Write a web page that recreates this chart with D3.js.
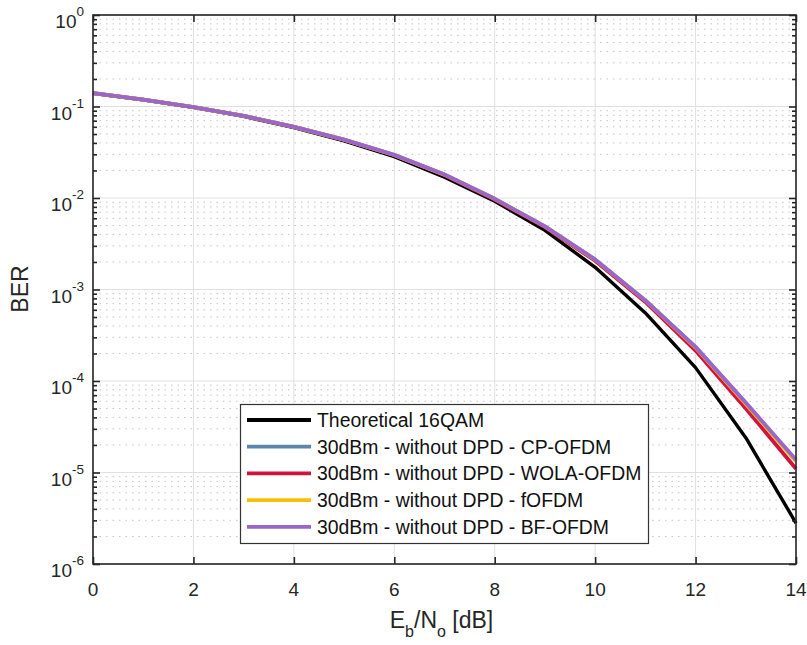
<!DOCTYPE html>
<html>
<head>
<meta charset="utf-8">
<script src="https://cdn.jsdelivr.net/npm/d3@7"></script>
<style>
  html, body { margin: 0; padding: 0; background: #fff; }
  svg { display: block; font-family: "Liberation Sans", Arial, Helvetica, sans-serif; }
</style>
</head>
<body>
<svg id="chart" width="807" height="645"></svg>
<script>
// ---- Data ----
const ebno = [0, 1, 2, 3, 4, 5, 6, 7, 8, 9, 10, 11, 12, 13, 14];
const theory16qam = [0.139, 0.118, 0.0978, 0.0779, 0.0587, 0.0422, 0.0283, 0.0169, 0.0092, 0.00443, 0.00175, 0.000555, 0.000140, 2.4e-5, 2.8e-6];
const cpOfdm   = [0.140, 0.119, 0.0985, 0.0790, 0.0600, 0.0434, 0.0295, 0.0180, 0.0098, 0.0049, 0.00212, 0.00076, 0.000235, 5.7e-5, 1.35e-5];
const wolaOfdm = [0.140, 0.119, 0.0983, 0.0788, 0.0598, 0.0432, 0.0293, 0.0178, 0.0096, 0.0048, 0.00206, 0.00073, 0.000215, 5.0e-5, 1.10e-5];
const fOfdm    = [0.140, 0.119, 0.0985, 0.0790, 0.0600, 0.0434, 0.0295, 0.0180, 0.0098, 0.0049, 0.00212, 0.00076, 0.000232, 5.6e-5, 1.32e-5];
const bfOfdm   = [0.140, 0.119, 0.0985, 0.0790, 0.0600, 0.0435, 0.0296, 0.0181, 0.0098, 0.0049, 0.00213, 0.00076, 0.000236, 5.8e-5, 1.38e-5];

const seriesNames = ["Theoretical 16QAM", "30dBm - without DPD - CP-OFDM", "30dBm - without DPD - WOLA-OFDM", "30dBm - without DPD - fOFDM", "30dBm - without DPD - BF-OFDM"];
const seriesValues = [theory16qam, cpOfdm, wolaOfdm, fOfdm, bfOfdm];
const seriesColors = ["#000000", "#5B87A8", "#D2143C", "#F8BE00", "#9966CC"];

const xTicks = [0, 2, 4, 6, 8, 10, 12, 14];
const yDecades = [0, -1, -2, -3, -4, -5, -6];

// ---- Layout ----
const svg = d3.select("#chart");
const m = { left: 93, top: 15, right: 796, bottom: 564 };
const x = d3.scaleLinear().domain([0, 14]).range([m.left, m.right]);
const y = d3.scaleLog().domain([1e-6, 1]).range([m.bottom, m.top]);
const axisColor = "#262626";

// minor values
const minorVals = [];
for (let d = -6; d < 0; d++) for (let k = 2; k <= 9; k++) minorVals.push(k * Math.pow(10, d));

// ---- Grid ----
const grid = svg.append("g");
grid.selectAll(".minor").data(minorVals).enter().append("line")
  .attr("x1", m.left).attr("x2", m.right)
  .attr("y1", d => y(d)).attr("y2", d => y(d))
  .attr("stroke", "#c4c4c4").attr("stroke-width", 1)
  .attr("stroke-dasharray", "1.5,5");
grid.selectAll(".majorY").data(yDecades).enter().append("line")
  .attr("x1", m.left).attr("x2", m.right)
  .attr("y1", d => y(Math.pow(10, d))).attr("y2", d => y(Math.pow(10, d)))
  .attr("stroke", "#e0e0e0").attr("stroke-width", 1);
grid.selectAll(".majorX").data(xTicks).enter().append("line")
  .attr("x1", d => x(d)).attr("x2", d => x(d))
  .attr("y1", m.top).attr("y2", m.bottom)
  .attr("stroke", "#e0e0e0").attr("stroke-width", 1);

// ---- Lines ----
const line = d3.line().x((d, i) => x(ebno[i])).y(d => y(d));
svg.append("g").selectAll("path").data(seriesValues).enter().append("path")
  .attr("d", d => line(d))
  .attr("fill", "none")
  .attr("stroke", (d, i) => seriesColors[i])
  .attr("stroke-width", (d, i) => i === 0 ? 3.4 : 3.8)
  .attr("stroke-linejoin", "round");

// ---- Axes (box with inward ticks) ----
const ax = svg.append("g");
const xAxisB = d3.axisBottom(x).tickValues(xTicks).tickSizeInner(-7).tickSizeOuter(0).tickFormat("");
const xAxisT = d3.axisTop(x).tickValues(xTicks).tickSizeInner(-7).tickSizeOuter(0).tickFormat("");
const yMajor = yDecades.map(d => Math.pow(10, d));
const yAxisL = d3.axisLeft(y).tickValues(yMajor).tickSizeInner(-7).tickSizeOuter(0).tickFormat("");
const yAxisR = d3.axisRight(y).tickValues(yMajor).tickSizeInner(-7).tickSizeOuter(0).tickFormat("");
const yAxisLm = d3.axisLeft(y).tickValues(minorVals).tickSizeInner(-4).tickSizeOuter(0).tickFormat("");
const yAxisRm = d3.axisRight(y).tickValues(minorVals).tickSizeInner(-4).tickSizeOuter(0).tickFormat("");

function styleAxis(g) {
  g.selectAll("path,line").attr("stroke", axisColor).attr("stroke-width", 1.6);
  g.select(".domain").remove();
}
ax.append("g").attr("transform", `translate(0,${m.bottom})`).call(xAxisB).call(styleAxis);
ax.append("g").attr("transform", `translate(0,${m.top})`).call(xAxisT).call(styleAxis);
ax.append("g").attr("transform", `translate(${m.left},0)`).call(yAxisL).call(styleAxis);
ax.append("g").attr("transform", `translate(${m.right},0)`).call(yAxisR).call(styleAxis);
ax.append("g").attr("transform", `translate(${m.left},0)`).call(yAxisLm).call(styleAxis);
ax.append("g").attr("transform", `translate(${m.right},0)`).call(yAxisRm).call(styleAxis);
ax.append("rect").attr("x", m.left).attr("y", m.top)
  .attr("width", m.right - m.left).attr("height", m.bottom - m.top)
  .attr("fill", "none").attr("stroke", axisColor).attr("stroke-width", 1.6);

// ---- Tick labels ----
svg.append("g").selectAll("text").data(xTicks).enter().append("text")
  .attr("x", d => x(d)).attr("y", m.bottom + 32)
  .attr("text-anchor", "middle").attr("font-size", 19).attr("fill", axisColor)
  .text(d => d);

const yl = svg.append("g").selectAll("text").data(yDecades).enter().append("text")
  .attr("x", 84).attr("y", d => y(Math.pow(10, d)) + 13)
  .attr("text-anchor", "end").attr("fill", axisColor);
yl.append("tspan").attr("font-size", 19).text("10");
yl.append("tspan").attr("font-size", 13.5).attr("dy", -12).text(d => d === 0 ? "0" : "-" + Math.abs(d));

// ---- Axis titles ----
const xt = svg.append("text").attr("x", (m.left + m.right) / 2 - 3).attr("y", 628)
  .attr("text-anchor", "middle").attr("font-size", 23).attr("fill", axisColor);
xt.append("tspan").text("E");
xt.append("tspan").attr("font-size", 16).attr("dy", 9).text("b");
xt.append("tspan").attr("dy", -9).text("/N");
xt.append("tspan").attr("font-size", 16).attr("dy", 9).text("o");
xt.append("tspan").attr("dy", -9).text(" [dB]");

svg.append("text").attr("transform", "translate(28,289) rotate(-90)")
  .attr("text-anchor", "middle").attr("font-size", 23).attr("fill", axisColor)
  .text("BER");

// ---- Legend ----
const lg = svg.append("g");
lg.append("rect").attr("x", 240.5).attr("y", 404.5).attr("width", 408).attr("height", 139)
  .attr("fill", "#fff").attr("stroke", "#333").attr("stroke-width", 1.2);
const rows = lg.selectAll(".row").data(seriesNames).enter().append("g")
  .attr("transform", (d, i) => `translate(0,${420 + i * 26.7})`);
rows.append("line").attr("x1", 247).attr("x2", 311).attr("y1", 0).attr("y2", 0)
  .attr("stroke", (d, i) => seriesColors[i]).attr("stroke-width", 3.8);
rows.append("text").attr("x", 317).attr("y", 7).attr("font-size", 19.4).attr("fill", "#111")
  .text(d => d);
</script>
</body>
</html>
